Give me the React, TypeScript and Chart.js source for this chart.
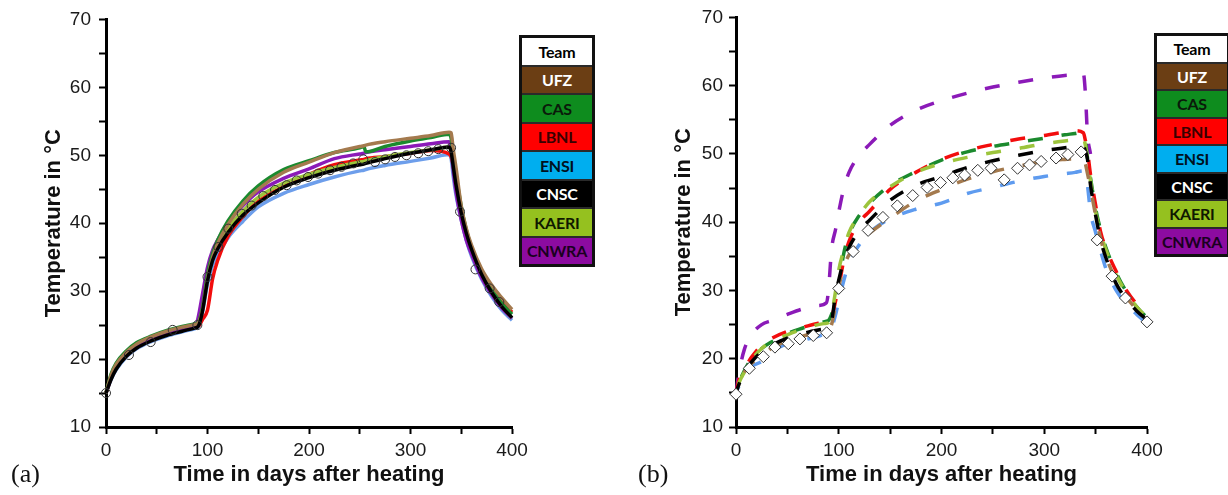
import React, { useEffect, useRef } from 'react';
import { Chart, registerables } from 'chart.js';

Chart.register(...registerables);

// ---------- Legend ----------
const teams = ['UFZ', 'CAS', 'LBNL', 'ENSI', 'CNSC', 'KAERI', 'CNWRA'];
const legendBg = ['#6B3E14', '#0E8C1E', '#FF0000', '#00AEEF', '#000000', '#95C11F', '#8C0BA0'];
const legendText = ['#FFFFFF', '#0A1A0A', '#3A0000', '#001020', '#FFFFFF', '#101800', '#1A0020'];

// ---------- Chart (a): solid lines, circles ----------
const timeA = [0, 5, 10, 20, 30, 45, 60, 75, 88, 90, 92, 95, 100, 105, 110, 120, 135, 150, 175, 200, 225, 250, 254, 256, 275, 300, 320, 338, 340, 342, 345, 350, 355, 360, 370, 380, 390, 400];
const ufzA = [15, 17.6, 19.2, 21, 22.2, 23.3, 24.1, 24.7, 25.1, 25.2, 25.6, 27.2, 31.8, 35, 37, 39.8, 42.8, 45, 47.5, 49.0, 50.4, 51.3, 51.4, 51.5, 52.0, 52.5, 52.9, 53.4, 53.3, 51, 48, 42.5, 39.2, 36.8, 33.3, 30.9, 29, 27.3];
const casA = [15, 17.8, 19.4, 21.2, 22.4, 23.4, 24.2, 24.8, 25.2, 25.3, 25.8, 27.5, 32.5, 35.5, 37.5, 40.3, 43.3, 45.5, 47.9, 49.2, 50.4, 51.1, 51.3, 50.5, 51.3, 52.1, 52.6, 53.1, 52.5, 50, 47, 42.5, 39, 36.5, 33, 30.3, 28.2, 26.6];
const lbnlA = [15, 17.2, 18.7, 20.5, 21.7, 22.8, 23.6, 24.2, 24.7, 24.8, 25.0, 25.8, 27.2, 31.8, 34.5, 38.0, 41.0, 43.2, 45.4, 47.2, 48.6, 49.3, 49.4, 49.5, 49.8, 50.3, 50.7, 50.2, 49.8, 48.5, 45.5, 41, 38.3, 36.4, 33, 30.5, 28.5, 26.9];
const ensiA = [15, 17, 18.4, 20.3, 21.5, 22.6, 23.4, 24, 24.5, 24.6, 25, 26.8, 31, 33.8, 35.3, 37.8, 40.3, 42.4, 44.4, 45.7, 46.8, 47.7, 47.8, 47.9, 48.5, 49.1, 49.6, 50.1, 49.5, 47, 44, 40.5, 37.5, 35.2, 31.8, 29.2, 27.2, 25.7];
const cnscA = [15, 17, 18.5, 20.4, 21.6, 22.7, 23.5, 24.1, 24.6, 24.7, 25.2, 27, 31.5, 34.5, 36.2, 38.6, 41.2, 43.0, 45.3, 46.7, 47.8, 48.6, 48.7, 48.8, 49.5, 50.3, 50.8, 51.2, 50.5, 48.5, 45.5, 41.5, 38.5, 36.2, 32.5, 29.8, 27.7, 26.1];
const kaeriA = [15, 17.5, 19, 20.9, 22, 23, 23.8, 24.4, 24.9, 25, 25.5, 27.5, 32, 35, 36.8, 39.2, 41.8, 43.8, 45.9, 47.2, 48.2, 49.0, 49.1, 49.2, 49.8, 50.4, 50.8, 51.2, 50.8, 48.5, 45.5, 41.5, 38.3, 36, 32.3, 29.6, 27.6, 26];
const cnwraA = [15, 17.3, 18.9, 20.9, 22, 23, 23.8, 24.4, 24.9, 25.6, 27, 29.5, 33.5, 36, 37.5, 40, 42.6, 44.6, 46.6, 48, 49.5, 50.2, 50.3, 50.4, 50.8, 51.3, 51.7, 52, 51, 48, 44.5, 40.5, 37.5, 35.5, 32, 29.5, 27.5, 26];
const obsTimeA = [0, 22.6, 44, 65.7, 90, 100, 110.7, 120.5, 133.7, 143.5, 155, 166.5, 178, 187.8, 199, 209, 220.7, 232, 243.6, 253.5, 265, 275, 284.7, 296, 307.7, 317.5, 327.4, 340, 348.8, 364, 378, 387.5];
const obsA = [15, 20.6, 22.5, 24.3, 25, 32.1, 36.5, 39.2, 41.4, 42.6, 44, 44.9, 45.6, 46.3, 46.8, 47.3, 47.8, 48.3, 48.8, 49.4, 49, 49.4, 49.75, 50, 50.3, 50.6, 50.9, 51.1, 41.7, 33.2, 30.4, 28.4];

// ---------- Chart (b): dashed lines, diamonds ----------
const timeB = [0, 3, 8, 15, 25, 35, 50, 65, 80, 88, 90, 93, 97, 100, 105, 110, 120, 130, 150, 175, 200, 225, 250, 275, 300, 320, 330, 338, 340, 342, 345, 350, 355, 360, 370, 380, 390, 400];
const ufzB = [15, 16.3, 18, 19.3, 20.3, 21.6, 22.6, 23.3, 23.9, 24.3, 24.4, 25, 28, 30.5, 33.5, 35.2, 37, 38.4, 40.6, 43.1, 44.8, 46.3, 47.4, 48.2, 48.9, 49.2, 49.3, 49.4, 48.6, 47.2, 45, 41, 37.5, 35, 31.5, 29, 27.2, 25.6];
const casB = [15, 16.5, 18.2, 20, 21.5, 22.5, 23.7, 24.5, 25.2, 25.5, 25.6, 26.5, 28.5, 31, 35.5, 38.2, 41, 42.8, 45.4, 47.4, 49.1, 50.3, 51.1, 51.7, 52.3, 52.8, 53, 53.2, 52.0, 49.5, 46.5, 42, 38.8, 36.3, 32.6, 29.8, 27.6, 26];
const lbnlB = [15, 17, 18.5, 20.2, 22, 23, 24, 24.6, 25.2, 25.4, 25.5, 26, 28.5, 30.5, 34.5, 37.2, 40, 41.6, 44.8, 47.3, 49.2, 50.5, 51.4, 52.2, 52.7, 53.2, 53.4, 53.1, 52.0, 50.5, 47, 42.5, 38.5, 36.2, 32.8, 30, 28, 26.4];
const ensiB = [15, 16, 17.3, 18.8, 19.6, 21, 22.2, 22.7, 23.3, 23.7, 23.8, 24.5, 26.5, 28.5, 31.5, 34, 36.7, 38.5, 40.5, 41.9, 42.8, 44.2, 45.1, 46, 46.7, 47.1, 47.3, 47.5, 47.2, 45.5, 41.5, 38.5, 35.7, 33.2, 30, 28, 26.5, 25.2];
const cnscB = [15, 16.3, 17.8, 19.5, 21, 22, 23, 23.7, 24.2, 24.4, 24.5, 25.5, 29.5, 31.5, 34.5, 36.3, 38.8, 40.3, 43.2, 45.4, 46.7, 48, 49, 49.8, 50.5, 50.9, 51.1, 51.2, 50.4, 49.3, 45.5, 41, 37.3, 34.8, 31, 28.7, 27, 25.7];
const kaeriB = [15, 16.5, 18, 19.8, 21.5, 22.6, 23.5, 24.4, 25, 25.2, 25.3, 26.5, 30, 33, 36, 38.5, 41, 43, 45.2, 47.3, 48.6, 49.5, 50.2, 50.8, 51.5, 51.9, 52.1, 52.3, 51.3, 49.3, 46, 41.5, 38.3, 36, 32.3, 29.6, 27.6, 26];
const cnwraB = [15, 18, 21.3, 23.5, 25, 25.6, 26.5, 27.3, 27.8, 28.2, 30, 36, 39, 41.5, 45, 47.3, 49.8, 51.4, 54.2, 56.4, 57.8, 58.9, 59.8, 60.5, 61.1, 61.5, 61.6, 61.8, 59, 53, 50, null, null, null, null, null, null, null];
const obsTimeB = [0, 13, 26.6, 37.9, 50.9, 62.2, 75.2, 88.2, 100, 114, 128.6, 143, 157, 172, 186, 199, 211, 222.5, 235.3, 248.2, 261, 274, 285.7, 297, 311.5, 323, 335.9, 351.5, 366, 379, 400];
const obsB = [14.8, 18.6, 20.3, 21.7, 22.2, 22.9, 23.4, 23.8, 30.3, 35.7, 38.8, 40.7, 42.4, 43.9, 45.1, 45.8, 46.5, 46.9, 47.6, 47.9, 46.2, 47.9, 48.4, 48.9, 49.4, 49.9, 50.3, 37.4, 32.1, 28.9, 25.4];

// axis ticks / titles
const xTickLabels = [0, 100, 200, 300, 400];
const yTickLabels = [10, 20, 30, 40, 50, 60, 70];
const xTitle = 'Time in days after heating';
const yTitle = 'Temperature in °C';

const colors = {
  UFZ: '#A47A4E',
  CAS: '#1B8A2E',
  LBNL: '#F20D0D',
  ENSI: '#6D9EEB',
  CNSC: '#000000',
  KAERI: '#9CC43C',
  CNWRA: '#8B1AB8',
};

const SANS = '"Liberation Sans", Arial, sans-serif';

function pts(xs: number[], ys: (number | null)[]) {
  return xs.map((x, i) => ({ x, y: ys[i] }));
}

function lineDs(label: string, xs: number[], ys: (number | null)[], color: string, dashed: boolean, offset = 0) {
  return {
    label,
    data: pts(xs, ys),
    borderColor: color,
    backgroundColor: color,
    borderWidth: 3.5,
    pointRadius: 0,
    borderDash: dashed ? [15, 19] : [],
    borderDashOffset: offset,
    cubicInterpolationMode: 'monotone',
    fill: false,
    clip: false,
    spanGaps: false,
  };
}

function buildOptions(top: number, right: number, yTickPad: number) {
  return {
    responsive: false,
    animation: false,
    events: [],
    layout: { padding: { left: 0, top, right, bottom: 0 } },
    plugins: { legend: { display: false }, tooltip: { enabled: false } },
    scales: {
      x: {
        type: 'linear',
        min: 0,
        max: 400,
        afterFit: (s: any) => { s.height = 68; },
        ticks: {
          stepSize: 50,
          autoSkip: false,
          maxRotation: 0,
          padding: 5,
          color: '#1a1a1a',
          font: { family: SANS, size: 19 },
          callback: (v: any) => (xTickLabels.includes(Number(v)) ? String(v) : ''),
        },
        grid: { drawOnChartArea: false, drawTicks: true, tickLength: 7, tickWidth: 2, tickColor: '#000' },
        border: { display: true, color: '#000', width: 3 },
        title: {
          display: true,
          text: xTitle,
          color: '#111',
          font: { family: SANS, size: 22, weight: 'bold' },
          padding: { top: 0, bottom: 7 },
        },
      },
      y: {
        type: 'linear',
        min: 10,
        max: 70,
        afterFit: (s: any) => { s.width = 106; },
        ticks: {
          stepSize: 5,
          autoSkip: false,
          padding: yTickPad,
          color: '#1a1a1a',
          font: { family: SANS, size: 19 },
          callback: (v: any) => (yTickLabels.includes(Number(v)) ? String(v) : ''),
        },
        grid: { drawOnChartArea: false, drawTicks: true, tickLength: 7, tickWidth: 2, tickColor: '#000' },
        border: { display: true, color: '#000', width: 3 },
        title: {
          display: true,
          text: yTitle,
          color: '#111',
          font: { family: SANS, size: 22, weight: 'bold' },
          padding: { top: 41, bottom: 0 },
        },
      },
    },
  };
}

function ChartA() {
  const ref = useRef<HTMLCanvasElement>(null);
  useEffect(() => {
    const datasets: any[] = [
      {
        label: 'Measured',
        data: pts(obsTimeA, obsA),
        showLine: false,
        pointStyle: 'circle',
        pointRadius: 4.5,
        pointBorderWidth: 1,
        pointBorderColor: '#333',
        pointBackgroundColor: 'rgba(0,0,0,0)',
        clip: false,
      },
      lineDs('CNSC', timeA, cnscA, colors.CNSC, false),
      lineDs('UFZ', timeA, ufzA, colors.UFZ, false),
      lineDs('CAS', timeA, casA, colors.CAS, false),
      lineDs('CNWRA', timeA, cnwraA, colors.CNWRA, false),
      lineDs('KAERI', timeA, kaeriA, colors.KAERI, false),
      lineDs('LBNL', timeA, lbnlA, colors.LBNL, false),
      lineDs('ENSI', timeA, ensiA, colors.ENSI, false),
    ];
    const chart = new Chart(ref.current as HTMLCanvasElement, {
      type: 'line',
      data: { datasets },
      options: buildOptions(19, 33, 8) as any,
    } as any);
    return () => chart.destroy();
  }, []);
  return <canvas ref={ref} width={545} height={495} style={{ position: 'absolute', left: 0, top: 0 }} />;
}

function ChartB() {
  const ref = useRef<HTMLCanvasElement>(null);
  useEffect(() => {
    const datasets: any[] = [
      {
        label: 'Measured',
        data: pts(obsTimeB, obsB),
        showLine: false,
        pointStyle: 'rectRot',
        pointRadius: 6,
        pointBorderWidth: 1,
        pointBorderColor: '#333',
        pointBackgroundColor: '#ffffff',
        clip: false,
      },
      lineDs('CNSC', timeB, cnscB, colors.CNSC, true, 4),
      lineDs('UFZ', timeB, ufzB, colors.UFZ, true, 12),
      lineDs('KAERI', timeB, kaeriB, colors.KAERI, true, 26),
      lineDs('CAS', timeB, casB, colors.CAS, true, 17),
      lineDs('LBNL', timeB, lbnlB, colors.LBNL, true, 0),
      lineDs('ENSI', timeB, ensiB, '#5E9BEF', true, 8),
      lineDs('CNWRA', timeB, cnwraB, colors.CNWRA, true, 0),
    ];
    const chart = new Chart(ref.current as HTMLCanvasElement, {
      type: 'line',
      data: { datasets },
      options: buildOptions(17, 28, 6) as any,
    } as any);
    return () => chart.destroy();
  }, []);
  return <canvas ref={ref} width={545} height={495} style={{ position: 'absolute', left: 630, top: 0 }} />;
}

function Legend({ left, top, rowH }: { left: number; top: number; rowH: number }) {
  const rowStyle: React.CSSProperties = {
    height: rowH,
    display: 'flex',
    alignItems: 'center',
    justifyContent: 'center',
  };
  return (
    <div
      style={{
        position: 'absolute',
        left,
        top,
        width: 76,
        border: '3px solid #111',
        background: '#fff',
        fontFamily: 'Lato, "Open Sans", sans-serif',
        fontWeight: 700,
        fontSize: 16,
        letterSpacing: -0.2,
        zIndex: 2,
        boxSizing: 'border-box',
      }}
    >
      <div style={{ ...rowStyle, background: '#fff', color: '#000' }}>Team</div>
      {teams.map((t, i) => (
        <div key={t} style={{ ...rowStyle, borderTop: '2px solid #2a2a2a', background: legendBg[i], color: legendText[i] }}>
          {t}
        </div>
      ))}
    </div>
  );
}

export default function App() {
  return (
    <div style={{ position: 'fixed', left: 0, top: 0, width: 1228, height: 495, background: '#fff', overflow: 'hidden' }}>
      <ChartA />
      <ChartB />
      <Legend left={519} top={35} rowH={26.5} />
      <Legend left={1154} top={33} rowH={25.5} />
      <div style={{ position: 'absolute', left: 11, top: 459, fontFamily: '"Liberation Serif", "Times New Roman", serif', fontSize: 26, color: '#111' }}>(a)</div>
      <div style={{ position: 'absolute', left: 638, top: 459, fontFamily: '"Liberation Serif", "Times New Roman", serif', fontSize: 26, color: '#111' }}>(b)</div>
    </div>
  );
}
